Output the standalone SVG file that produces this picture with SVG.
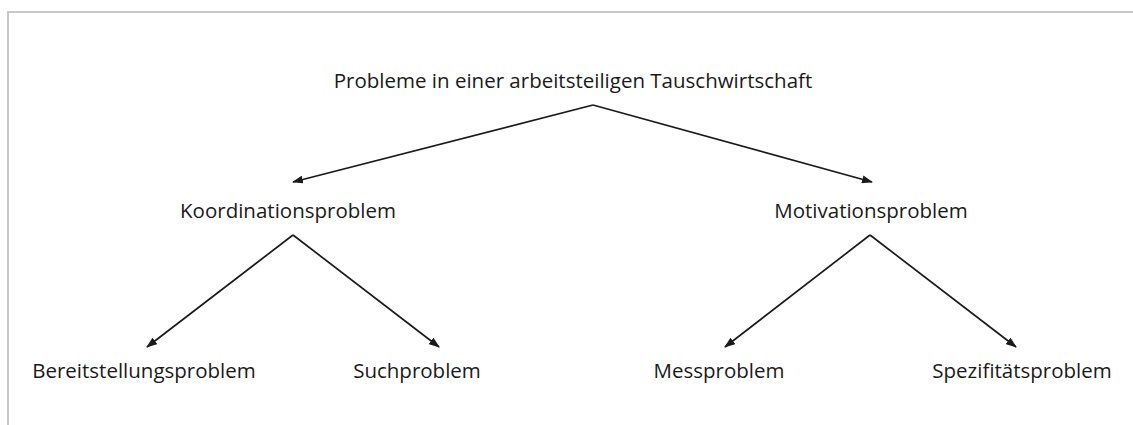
<svg xmlns="http://www.w3.org/2000/svg" width="1133" height="425" viewBox="0 0 1133 425">
  <style>
    .frame { fill: none; stroke: #c8c8c8; stroke-width: 2; }
    .label { font-family: "Open Sans", "Noto Sans", "Liberation Sans", sans-serif; font-size: 20.5px; fill: #1a1a1a; text-anchor: middle; }
    .edge { fill: none; stroke: #1a1a1a; stroke-width: 1.7; marker-end: url(#arrow); }
  </style>
  <defs>
    <marker id="arrow" viewBox="0 0 11 8" refX="10" refY="4" markerWidth="11" markerHeight="8" markerUnits="userSpaceOnUse" orient="auto">
      <path d="M0,0 L11,4 L0,8 z" fill="#1a1a1a"/>
    </marker>
  </defs>
  <rect width="1133" height="425" fill="#ffffff"/>
  <!-- open frame along the top and left -->
  <path class="frame" d="M8,425 L8,12 L1133,12"/>

  <g id="connectors">
    <path class="edge" d="M593,105 L293,182"/>
    <path class="edge" d="M593,105 L872,182"/>
    <path class="edge" d="M293,235 L147,347"/>
    <path class="edge" d="M293,235 L439,347"/>
    <path class="edge" d="M870,235 L725,347"/>
    <path class="edge" d="M870,235 L1016,347"/>
  </g>

  <g id="root"><text class="label" x="573" y="88">Probleme in einer arbeitsteiligen Tauschwirtschaft</text></g>
  <g id="koordination"><text class="label" x="288" y="218">Koordinationsproblem</text></g>
  <g id="motivation"><text class="label" x="871" y="218">Motivationsproblem</text></g>
  <g id="bereitstellung"><text class="label" x="144" y="378">Bereitstellungsproblem</text></g>
  <g id="such"><text class="label" x="417" y="378">Suchproblem</text></g>
  <g id="mess"><text class="label" x="719" y="378">Messproblem</text></g>
  <g id="spezifitaet"><text class="label" x="1022" y="378">Spezifitätsproblem</text></g>
</svg>
